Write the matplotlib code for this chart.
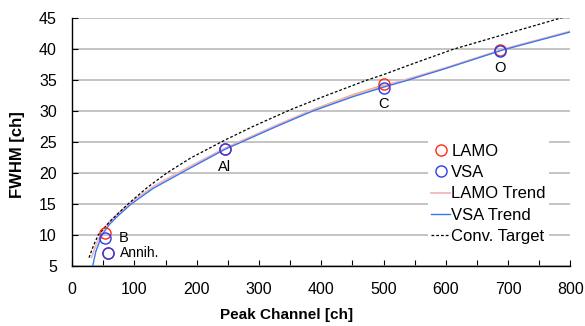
import matplotlib
matplotlib.use("Agg")
import matplotlib.pyplot as plt
from matplotlib.ticker import MultipleLocator

plt.rcParams['font.family'] = ['Liberation Sans', 'DejaVu Sans']

# Measured peaks
peak_names = ["B", "Annih.", "Al", "C", "O"]
lamo_x = [53, 57, 245, 501, 687]
lamo_y = [10.3, 7.0, 23.9, 34.3, 39.9]
vsa_x = [53, 57, 245, 501, 687]
vsa_y = [9.5, 7.0, 23.9, 33.8, 39.7]

# Trend curves
lamo_trend_x = [31, 38, 48, 60, 75, 95, 130, 175, 245, 272, 330, 386, 450, 501, 539, 600, 692, 800]
lamo_trend_y = [6.3, 8.3, 10.5, 12.1, 13.6, 15.3, 17.8, 20.3, 24.0, 25.2, 27.8, 30.2, 32.5, 34.1, 35.2, 37.0, 40.0, 42.9]
vsa_trend_x = [33, 38, 48, 60, 75, 95, 130, 175, 245, 272, 330, 386, 450, 501, 539, 600, 692, 800]
vsa_trend_y = [5.0, 7.3, 10.0, 11.7, 13.2, 15.0, 17.5, 20.0, 23.8, 25.0, 27.6, 30.0, 32.3, 33.9, 35.0, 36.9, 39.9, 42.8]
orange_x = [392, 450, 500]
orange_y = [30.4, 32.6, 34.2]
target_x = [27, 34, 42, 60, 90, 120, 152, 190, 245, 290, 350, 410, 473, 500, 540, 612, 687, 783, 800]
target_y = [6.3, 8.2, 10.0, 12.1, 15.0, 17.6, 20.0, 22.4, 25.3, 27.5, 30.2, 32.6, 35.0, 35.9, 37.4, 40.0, 42.2, 45.0, 45.5]

# Label anchors
label_x = [75, 77, 245, 500, 687]
label_y = [9.5, 7.0, 21.0, 31.2, 36.9]

fig = plt.figure(figsize=(5.85, 3.26), dpi=100)
ax = fig.add_axes([0.1234, 0.185, 0.8518, 0.7589])

ax.set_xlim(0, 800)
ax.set_ylim(5, 45)
ax.xaxis.set_major_locator(MultipleLocator(100))
ax.xaxis.set_minor_locator(MultipleLocator(50))
ax.yaxis.set_major_locator(MultipleLocator(5))
ax.grid(axis='y', color='#b4b4b4', linewidth=1.1)
ax.set_axisbelow(True)
for s in ['top', 'right']:
    ax.spines[s].set_visible(False)
for s in ['left', 'bottom']:
    ax.spines[s].set_linewidth(1.0)
ax.tick_params(axis='x', which='both', direction='in', length=4, width=0.8, labelsize=11.5, pad=12)
ax.tick_params(axis='y', which='both', direction='in', length=4, width=0.8, labelsize=11.5, pad=11)

ax.plot(orange_x, orange_y, color='#f0a040', linewidth=1.2, zorder=2)
ax.plot(lamo_trend_x, lamo_trend_y, color='#f2b8b8', linewidth=1.3, label='LAMO Trend', zorder=3)
ax.plot(vsa_trend_x, vsa_trend_y, color='#3a78f0', linewidth=1.0, label='VSA Trend', zorder=3)
ax.plot(target_x, target_y, color='black', linewidth=0.9, linestyle=(0, (2.2, 1.6)), label='Conv. Target', zorder=3)
ax.plot(lamo_x, lamo_y, linestyle='none', marker='o', markersize=8, markerfacecolor='none',
        markeredgecolor='#ff2a10', markeredgewidth=1.0, label='LAMO', zorder=4)
ax.plot(vsa_x, vsa_y, linestyle='none', marker='o', markersize=8, markerfacecolor='none',
        markeredgecolor='#2a3cf0', markeredgewidth=1.0, label='VSA', zorder=5)

for name, lx, ly in zip(peak_names, label_x, label_y):
    if name in ("B", "Annih."):
        ax.text(lx, ly, name, fontsize=10.5 if name == "B" else 10, ha='left', va='center')
    else:
        ax.text(lx, ly, name, fontsize=10.5, ha='center', va='center')

handles, labels = ax.get_legend_handles_labels()
order = ['LAMO', 'VSA', 'LAMO Trend', 'VSA Trend', 'Conv. Target']
hmap = dict(zip(labels, handles))
leg = ax.legend([hmap[k] for k in order], order, loc='upper left', bbox_to_anchor=(0.714, 0.505),
                frameon=True, fancybox=False, edgecolor='none', facecolor='white', framealpha=1,
                fontsize=12, handlelength=1.15, handletextpad=0.05, labelspacing=0.37,
                borderpad=0.2, borderaxespad=0)

ax.set_xlabel('Peak Channel [ch]', fontsize=11, fontweight='bold')
ax.set_ylabel('FWHM [ch]', fontsize=12, fontweight='bold')
ax.xaxis.set_label_coords(0.431, -0.172)
ax.yaxis.set_label_coords(-0.095, 0.447)

fig.savefig('out.png', dpi=100)
